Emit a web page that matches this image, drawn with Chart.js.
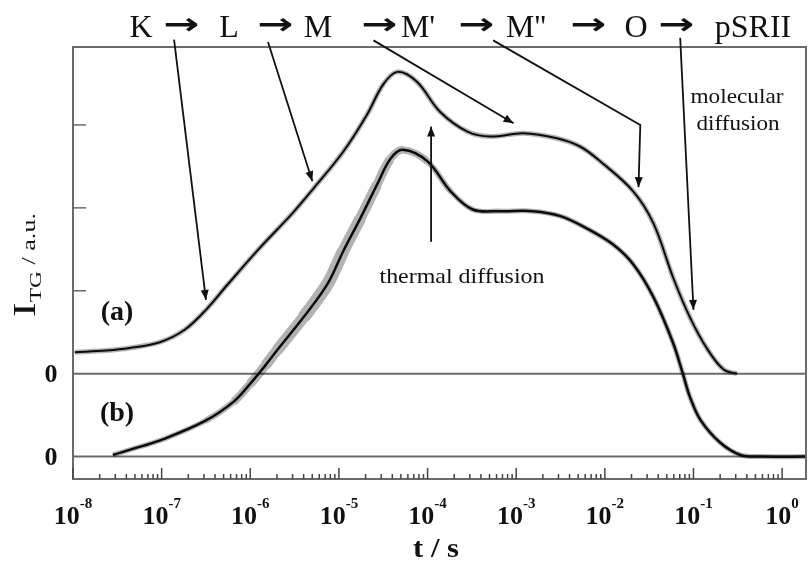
<!DOCTYPE html>
<html>
<head>
<meta charset="utf-8">
<script src="https://cdn.jsdelivr.net/npm/chart.js@4.4.1/dist/chart.umd.min.js"></script>
<style>
  html, body { margin: 0; padding: 0; background: #fff; }
  canvas { display: block; }
</style>
</head>
<body>
<canvas id="myChart" width="812" height="565"></canvas>
<script>
// trace (a): log10(t / s) and I_TG (a.u.)
const logTimeA = [-7.98, -7.62, -7.36, -7.02, -6.74, -6.50, -6.26, -5.89, -5.52, -5.29, -4.95, -4.68, -4.50, -4.34,
  -4.12, -3.86, -3.55, -3.29, -2.92, -2.54, -2.28, -2.05, -1.68, -1.45, -1.23, -1.04, -0.84, -0.66, -0.51];
const signalA = [0.26, 0.28, 0.31, 0.38, 0.53, 0.77, 1.07, 1.52, 1.94, 2.23, 2.68, 3.13, 3.49, 3.64,
  3.52, 3.16, 2.92, 2.86, 2.90, 2.84, 2.74, 2.56, 2.20, 1.81, 1.16, 0.68, 0.29, 0.05, 0.00];

// trace (b), plotted one unit lower
const logTimeB = [-7.55, -7.24, -6.98, -6.51, -6.19, -6.00, -5.83, -5.70, -5.40, -5.13, -4.95, -4.76, -4.57, -4.42,
  -4.28, -4.00, -3.74, -3.49, -3.18, -2.81, -2.50, -2.20, -1.91, -1.68, -1.45, -1.23, -1.12, -1.04, -0.92,
  -0.70, -0.47, -0.25, 0.26];
const signalB = [0.02, 0.12, 0.21, 0.43, 0.66, 0.88, 1.10, 1.28, 1.68, 2.08, 2.48, 2.87, 3.28, 3.59,
  3.70, 3.56, 3.20, 2.98, 2.96, 2.96, 2.90, 2.75, 2.56, 2.32, 1.92, 1.37, 1.00, 0.72, 0.44,
  0.17, 0.02, 0.00, 0.00];
const offsetB = -1;

const xTickExponents = [-8, -7, -6, -5, -4, -3, -2, -1, 0];
const yInnerTicks = [1, 2, 3];
const zeroLabels = ['0', '0'];

// photocycle scheme along the top
const schemeLabels = ['K', '→', 'L', '→', 'M', '→', "M'", '→', "M''", '→', 'O', '→', 'pSRII'];

// annotation arrows, as [log10 t, value] points, head at the last point
const arrows = [
  [[-6.86, 4.03], [-6.50, 0.89]],
  [[-5.80, 4.00], [-5.30, 2.32]],
  [[-4.61, 4.02], [-3.03, 3.02]],
  [[-3.26, 4.02], [-1.60, 3.00], [-1.62, 2.25]],
  [[-1.15, 4.05], [-1.00, 0.77]],
  [[-3.96, 1.59], [-3.96, 2.98]]
];

const pointsA = logTimeA.map((lt, i) => ({ x: Math.pow(10, lt), y: signalA[i] }));
const pointsB = logTimeB.map((lt, i) => ({ x: Math.pow(10, lt), y: signalB[i] + offsetB }));

const serif = '"Liberation Serif", "DejaVu Serif", serif';

function fitText(ctx, str, cx, cy, font, width) {
  ctx.save();
  ctx.font = font;
  const w = ctx.measureText(str).width;
  ctx.translate(cx, cy);
  if (width) ctx.scale(width / w, 1);
  ctx.textAlign = 'center';
  ctx.fillText(str, 0, 0);
  ctx.restore();
}

function arrowHead(ctx, x0, y0, x1, y1, len, half) {
  const ang = Math.atan2(y1 - y0, x1 - x0);
  ctx.beginPath();
  ctx.moveTo(x1, y1);
  ctx.lineTo(x1 - len * Math.cos(ang) + half * Math.sin(ang), y1 - len * Math.sin(ang) - half * Math.cos(ang));
  ctx.lineTo(x1 - len * Math.cos(ang) - half * Math.sin(ang), y1 - len * Math.sin(ang) + half * Math.cos(ang));
  ctx.closePath();
  ctx.fill();
}

const decorations = {
  id: 'decorations',
  beforeDatasetsDraw(chart) {
    const { ctx, chartArea: a, scales: { y } } = chart;
    ctx.save();
    ctx.strokeStyle = '#6a6a6a';
    ctx.lineWidth = 2;
    [0, offsetB].forEach(v => {
      const py = y.getPixelForValue(v);
      ctx.beginPath();
      ctx.moveTo(a.left, py);
      ctx.lineTo(a.right, py);
      ctx.stroke();
    });
    ctx.restore();
  },
  afterDraw(chart) {
    const { ctx, chartArea: a, scales: { x, y } } = chart;
    ctx.save();

    // frame
    ctx.strokeStyle = '#6a6a6a';
    ctx.lineWidth = 2;
    ctx.strokeRect(a.left, a.top, a.right - a.left, a.bottom - a.top);

    // inner ticks on the left
    ctx.lineWidth = 1.5;
    yInnerTicks.forEach(v => {
      const py = y.getPixelForValue(v);
      ctx.beginPath();
      ctx.moveTo(a.left, py);
      ctx.lineTo(a.left + 13, py);
      ctx.stroke();
    });

    // inner ticks along the bottom
    ctx.strokeStyle = '#444';
    xTickExponents.forEach(e => {
      for (let k = 1; k <= 9; k++) {
        const t = k * Math.pow(10, e);
        if (t > x.max) break;
        const px = x.getPixelForValue(t);
        ctx.beginPath();
        ctx.moveTo(px, a.bottom);
        ctx.lineTo(px, a.bottom - (k === 1 ? 11 : 5));
        ctx.stroke();
      }
    });

    ctx.fillStyle = '#111';
    ctx.textBaseline = 'alphabetic';

    // x tick labels 10^n
    xTickExponents.forEach(e => {
      const px = x.getPixelForValue(Math.pow(10, e));
      ctx.font = 'bold 26px ' + serif;
      const w1 = ctx.measureText('10').width;
      ctx.font = 'bold 15px ' + serif;
      const sup = String(e);
      const w2 = ctx.measureText(sup).width;
      const x0 = px - (w1 + w2) / 2;
      ctx.textAlign = 'left';
      ctx.font = 'bold 26px ' + serif;
      ctx.fillText('10', x0, 524);
      ctx.font = 'bold 15px ' + serif;
      ctx.fillText(sup, x0 + w1, 508);
    });

    // zero labels
    ctx.textAlign = 'center';
    ctx.font = 'bold 26px ' + serif;
    [0, offsetB].forEach((v, i) => {
      ctx.fillText(zeroLabels[i], 51, y.getPixelForValue(v) + 8);
    });

    // axis titles
    fitText(ctx, 't / s', 436, 557, 'bold 28px ' + serif, 46);

    ctx.save();
    ctx.translate(35, 265);
    ctx.rotate(-Math.PI / 2);
    const fI = '32px ' + serif, fSub = '17px ' + serif, fRest = '19px ' + serif;
    ctx.font = fI; const wI = ctx.measureText('I').width;
    ctx.font = fSub; const wS = ctx.measureText('TG').width;
    ctx.font = fRest; const wR = ctx.measureText(' / a.u.').width;
    const total = wI + wS + wR;
    ctx.scale(104 / total, 1);
    ctx.textAlign = 'left';
    let cx = -total / 2;
    ctx.font = fI; ctx.fillText('I', cx, 0); cx += wI;
    ctx.font = fSub; ctx.fillText('TG', cx, 6); cx += wS;
    ctx.font = fRest; ctx.fillText(' / a.u.', cx, 0);
    ctx.restore();

    // trace labels
    ctx.textAlign = 'center';
    ctx.textBaseline = 'middle';
    ctx.font = 'bold 28px ' + serif;
    ctx.fillText('(a)', 117, 313);
    ctx.fillText('(b)', 117, 414);
    ctx.textBaseline = 'alphabetic';

    // scheme along the top
    const schemeX = [141, 181, 229, 275, 318, 379, 418, 476, 526, 588, 636, 676, 753];
    schemeLabels.forEach((s, i) => {
      if (s === '→') {
        fitText(ctx, s, schemeX[i], 34, 'bold 30px "DejaVu Sans", sans-serif', 36);
      } else {
        ctx.font = '32px ' + serif;
        ctx.fillText(s, schemeX[i], 37);
      }
    });

    // annotation texts
    fitText(ctx, 'thermal diffusion', 462, 283, '22px ' + serif, 165);
    fitText(ctx, 'molecular', 737, 103, '22px ' + serif, 93);
    fitText(ctx, 'diffusion', 738, 130, '22px ' + serif, 83);

    // annotation arrows
    ctx.strokeStyle = '#111';
    ctx.lineWidth = 1.8;
    arrows.forEach(pts => {
      const p = pts.map(([lt, v]) => [x.getPixelForValue(Math.pow(10, lt)), y.getPixelForValue(v)]);
      ctx.beginPath();
      p.forEach(([px, py], i) => (i ? ctx.lineTo(px, py) : ctx.moveTo(px, py)));
      ctx.stroke();
      const n = p.length;
      arrowHead(ctx, p[n - 2][0], p[n - 2][1], p[n - 1][0], p[n - 1][1], 10, 4);
    });

    ctx.restore();
  }
};

// scatter band width: wider where the (b) data are noisy (about 1e-6 .. 4e-5 s)
const bandWidth = ctx => {
  const lt = Math.log10(ctx.p0.parsed.x);
  const d = (lt + 5.3) / 0.9;
  return 5 + 8 * Math.exp(-d * d);
};

const lineStyle = { pointRadius: 0, tension: 0.35, cubicInterpolationMode: 'default' };

new Chart(document.getElementById('myChart'), {
  type: 'line',
  data: {
    datasets: [
      Object.assign({ data: pointsA, borderColor: 'rgba(0,0,0,0.3)', borderWidth: 5 }, lineStyle),
      Object.assign({ data: pointsB, borderColor: 'rgba(0,0,0,0.3)', borderWidth: 5,
        segment: { borderWidth: bandWidth } }, lineStyle),
      Object.assign({ data: pointsA, borderColor: '#111', borderWidth: 2 }, lineStyle),
      Object.assign({ data: pointsB, borderColor: '#111', borderWidth: 2.5 }, lineStyle)
    ]
  },
  options: {
    responsive: false,
    animation: false,
    layout: { padding: { left: 73, top: 47, right: 6, bottom: 86 } },
    plugins: {
      legend: { display: false },
      tooltip: { enabled: false }
    },
    scales: {
      x: { type: 'logarithmic', min: 1e-8, max: 1.86, display: false },
      y: { type: 'linear', min: -1.27, max: 3.94, display: false }
    }
  },
  plugins: [decorations]
});
</script>
</body>
</html>
